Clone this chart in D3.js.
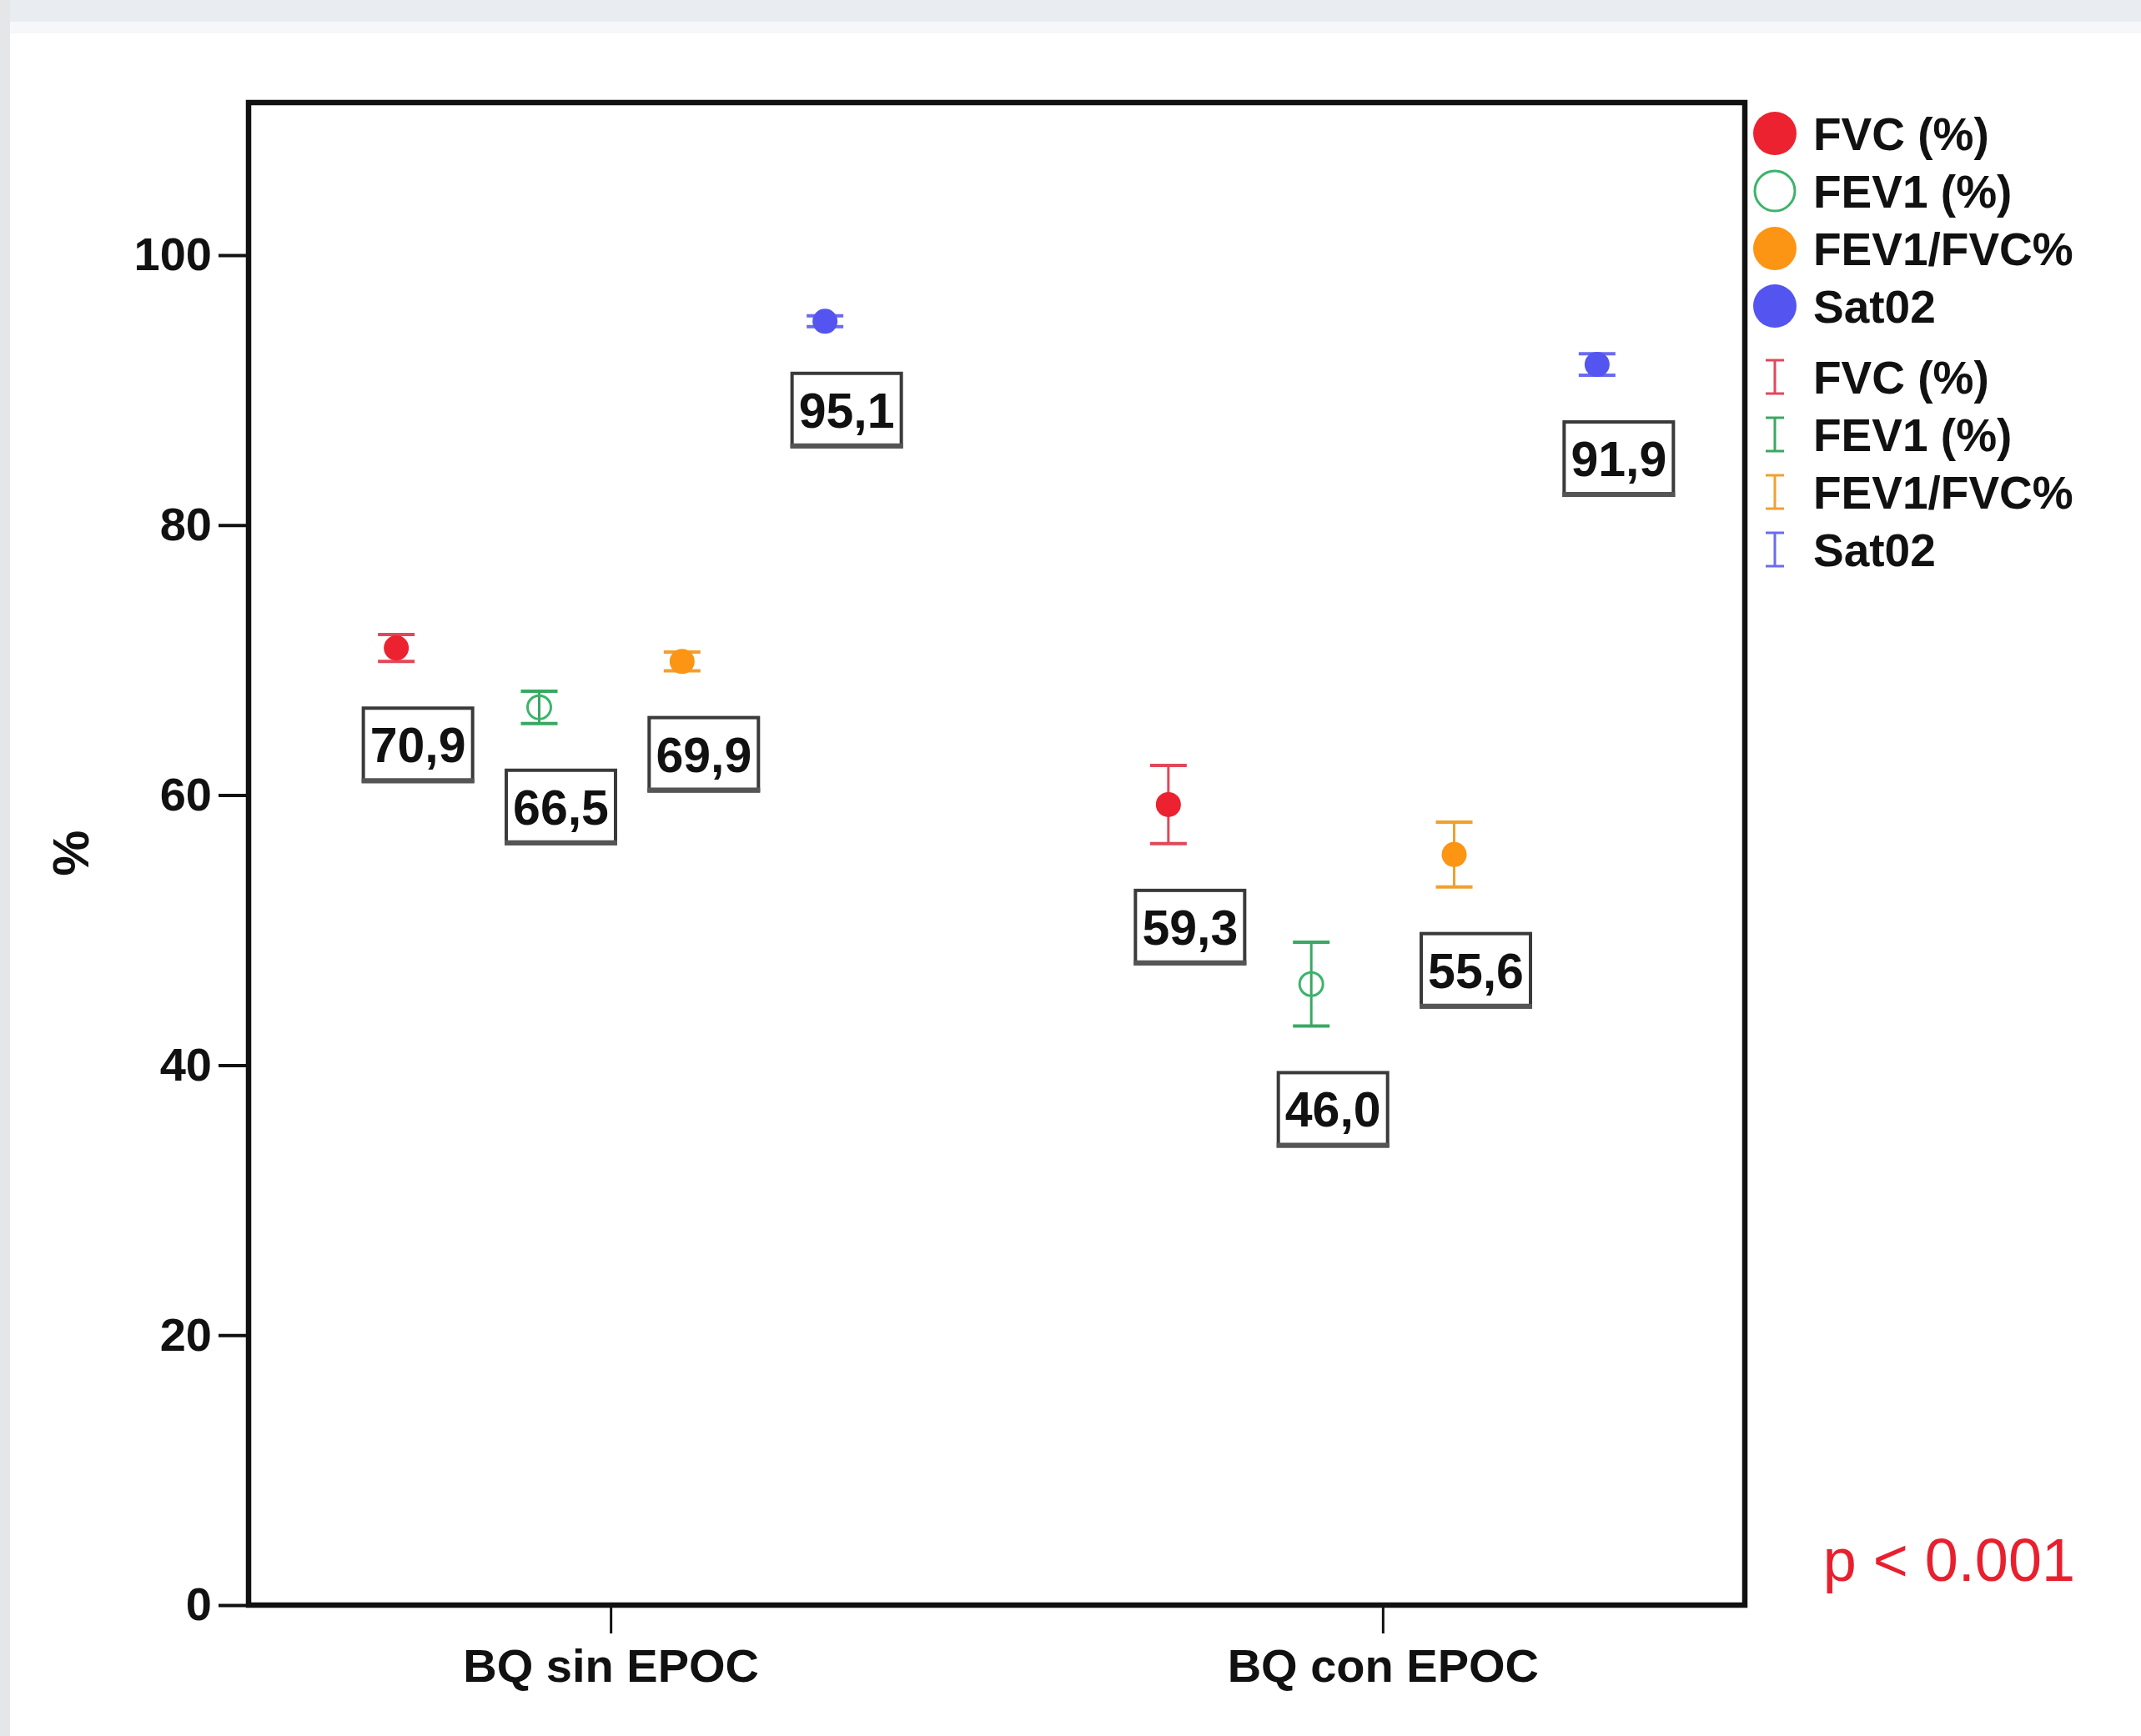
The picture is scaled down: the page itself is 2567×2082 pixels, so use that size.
<html>
<head>
    <script src="https://cdnjs.cloudflare.com/ajax/libs/d3/7.8.5/d3.min.js"></script>
    <style>
        body { margin: 0; background: #ffffff; }
        text { font-family: "Liberation Sans", Arial, sans-serif; }
    </style>
</head>
<body>
    <script>
        // data
        var categories = ["BQ sin EPOC", "BQ con EPOC"];
        var seriesNames = ["FVC (%)", "FEV1 (%)", "FEV1/FVC%", "Sat02"];

        var meanFVC = [70.9, 59.3];
        var meanFEV1 = [66.5, 46.0];
        var meanRatio = [69.9, 55.6];
        var meanSat = [95.1, 91.9];

        // half width of the error bars
        var errFVC = [1.0, 2.9];
        var errFEV1 = [1.2, 3.1];
        var errRatio = [0.7, 2.4];
        var errSat = [0.4, 0.8];

        var yTicks = [0, 20, 40, 60, 80, 100];

        var markColors = ["#ec2230", "#3cb46a", "#fc9414", "#5454f0"];
        var barColors = ["#e2475a", "#3aa862", "#f0a030", "#6a6af0"];
        var filled = [true, false, true, true];

        var width = 2567;
        var height = 2082;

        var svg = d3.select("body").append("svg")
            .attr("width", width)
            .attr("height", height);

        // screenshot edges
        svg.append("rect").attr("x", 0).attr("y", 0).attr("width", width).attr("height", 26).attr("fill", "#e9edf2");
        svg.append("rect").attr("x", 0).attr("y", 26).attr("width", width).attr("height", 14).attr("fill", "#f5f7f9");
        svg.append("rect").attr("x", 0).attr("y", 0).attr("width", 12).attr("height", height).attr("fill", "#e4e6e8");

        var plot = { left: 298, right: 2092, top: 123, bottom: 1925 };

        var x = d3.scalePoint()
            .domain(categories)
            .range([plot.left, plot.right])
            .padding(0.469);

        var offset = d3.scalePoint()
            .domain(seriesNames)
            .range([-257, 257]);

        var y = d3.scaleLinear()
            .domain([0, 111.3])
            .range([plot.bottom, plot.top]);

        var means = [meanFVC, meanFEV1, meanRatio, meanSat];
        var errs = [errFVC, errFEV1, errRatio, errSat];

        var points = [];
        seriesNames.forEach(function (s, i) {
            categories.forEach(function (c, j) {
                points.push({ series: s, idx: i, cat: c, mean: means[i][j], err: errs[i][j] });
            });
        });

        // y axis
        var yAxis = d3.axisLeft(y)
            .tickValues(yTicks)
            .tickSize(36)
            .tickPadding(8);

        var yAxisGroup = svg.append("g")
            .attr("transform", "translate(" + plot.left + ",0)")
            .call(yAxis);
        yAxisGroup.select(".domain").remove();
        yAxisGroup.selectAll("line").attr("stroke", "#111").attr("stroke-width", 4);
        yAxisGroup.selectAll("text")
            .attr("font-size", 56)
            .attr("font-weight", "bold")
            .attr("fill", "#111")
            .style("font-family", "'Liberation Sans', Arial, sans-serif");

        // x axis
        var xAxis = d3.axisBottom(x)
            .tickSize(34)
            .tickPadding(18);

        var xAxisGroup = svg.append("g")
            .attr("transform", "translate(0," + plot.bottom + ")")
            .call(xAxis);
        xAxisGroup.select(".domain").remove();
        xAxisGroup.selectAll("line").attr("stroke", "#111").attr("stroke-width", 3);
        xAxisGroup.selectAll("text")
            .attr("font-size", 56)
            .attr("font-weight", "bold")
            .attr("fill", "#111")
            .style("font-family", "'Liberation Sans', Arial, sans-serif");

        // frame
        svg.append("rect")
            .attr("x", plot.left)
            .attr("y", plot.top)
            .attr("width", plot.right - plot.left)
            .attr("height", plot.bottom - plot.top)
            .attr("fill", "none")
            .attr("stroke", "#111")
            .attr("stroke-width", 6.5);

        // y title
        svg.append("text")
            .attr("transform", "translate(106," + (y(55.7)) + ") rotate(-90)")
            .attr("text-anchor", "middle")
            .attr("font-size", 62)
            .attr("font-weight", "bold")
            .attr("fill", "#111")
            .text("%");

        var capHalf = 22;

        var marks = svg.append("g");

        points.forEach(function (d) {
            var px = x(d.cat) + offset(d.series);
            var g = marks.append("g");
            var col = barColors[d.idx];

            g.append("line")
                .attr("x1", px).attr("x2", px)
                .attr("y1", y(d.mean + d.err)).attr("y2", y(d.mean - d.err))
                .attr("stroke", col).attr("stroke-width", 3);
            [d.mean + d.err, d.mean - d.err].forEach(function (v) {
                g.append("line")
                    .attr("x1", px - capHalf).attr("x2", px + capHalf)
                    .attr("y1", y(v)).attr("y2", y(v))
                    .attr("stroke", col).attr("stroke-width", 4);
            });

            g.append("circle")
                .attr("cx", px)
                .attr("cy", y(d.mean))
                .attr("r", filled[d.idx] ? 15 : 14)
                .attr("fill", filled[d.idx] ? markColors[d.idx] : "none")
                .attr("stroke", markColors[d.idx])
                .attr("stroke-width", filled[d.idx] ? 0 : 3);

            // value label box below the error bar
            var bw = 131, bh = 88;
            var cx = px + 26;
            var top = y(d.mean - d.err) + 56;
            g.append("rect")
                .attr("x", cx - bw / 2)
                .attr("y", top)
                .attr("width", bw)
                .attr("height", bh)
                .attr("fill", "#fff")
                .attr("stroke", "#3a3a3a")
                .attr("stroke-width", 4);
            g.append("line")
                .attr("x1", cx - bw / 2 - 2).attr("x2", cx + bw / 2 + 2)
                .attr("y1", top + bh - 1).attr("y2", top + bh - 1)
                .attr("stroke", "#555").attr("stroke-width", 6);
            g.append("text")
                .attr("x", cx)
                .attr("y", top + bh / 2 + 21)
                .attr("text-anchor", "middle")
                .attr("font-size", 59)
                .attr("font-weight", "bold")
                .attr("fill", "#111")
                .text(d3.format(".1f")(d.mean).replace(".", ","));
        });

        // legend
        var legend = svg.append("g");
        var rowStep = 69;
        var legendX = 2128;
        var textX = 2174;

        seriesNames.forEach(function (s, i) {
            var ly = 160 + i * rowStep;
            legend.append("circle")
                .attr("cx", legendX)
                .attr("cy", ly)
                .attr("r", filled[i] ? 26 : 24)
                .attr("fill", filled[i] ? markColors[i] : "none")
                .attr("stroke", markColors[i])
                .attr("stroke-width", filled[i] ? 0 : 3);
            legend.append("text")
                .attr("x", textX)
                .attr("y", ly + 20)
                .attr("font-size", 55)
                .attr("font-weight", "bold")
                .attr("fill", "#111")
                .text(s);
        });

        seriesNames.forEach(function (s, i) {
            var ly = 452 + i * rowStep;
            var col = barColors[i];
            legend.append("line")
                .attr("x1", legendX).attr("x2", legendX)
                .attr("y1", ly - 20).attr("y2", ly + 20)
                .attr("stroke", col).attr("stroke-width", 3);
            [ly - 20, ly + 20].forEach(function (v) {
                legend.append("line")
                    .attr("x1", legendX - 11).attr("x2", legendX + 11)
                    .attr("y1", v).attr("y2", v)
                    .attr("stroke", col).attr("stroke-width", 3);
            });
            legend.append("text")
                .attr("x", textX)
                .attr("y", ly + 20)
                .attr("font-size", 55)
                .attr("font-weight", "bold")
                .attr("fill", "#111")
                .text(s);
        });

        // p value
        svg.append("text")
            .attr("x", 2488)
            .attr("y", 1896)
            .attr("text-anchor", "end")
            .attr("font-size", 72)
            .attr("fill", "#e8202e")
            .text("p < 0.001");
    </script>
</body>
</html>
